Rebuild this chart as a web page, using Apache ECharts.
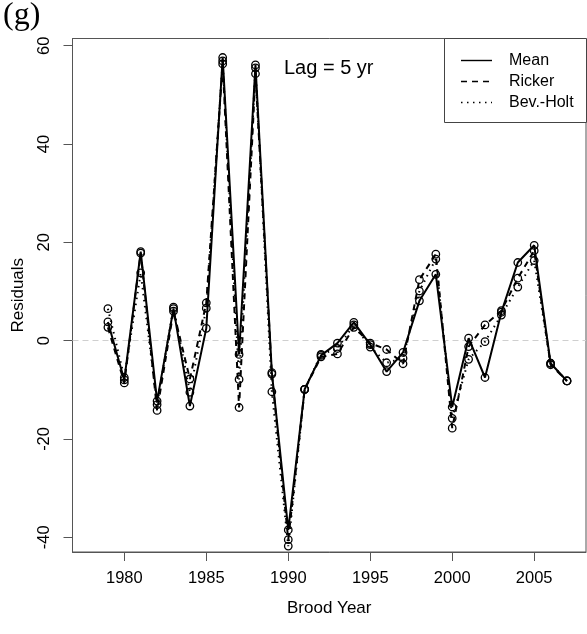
<!DOCTYPE html>
<html>
<head>
<meta charset="utf-8">
<script src="https://cdn.jsdelivr.net/npm/echarts@6/dist/echarts.min.js"></script>
<style>
  html, body { margin: 0; padding: 0; background: #fff; }
  #chart { width: 587px; height: 634px; }
</style>
</head>
<body>
<div id="chart"></div>
<script>
// Brood years and residuals of the three stock-recruit fits (lag = 5 yr)
const years = [1979, 1980, 1981, 1982, 1983, 1984, 1985, 1986, 1987, 1988,
               1989, 1990, 1991, 1992, 1993, 1994, 1995, 1996, 1997, 1998,
               1999, 2000, 2001, 2002, 2003, 2004, 2005, 2006, 2007];
const meanResid = [3.8, -8.0, 18.1, -12.3, 6.5, -13.3, 2.5, 57.6, -2.8, 56.1,
                   -6.5, -38.5, -9.9, -3.0, -0.5, 3.7, -0.8, -6.3, -2.4, 8.1,
                   13.5, -13.5, 0.5, -7.5, 5.8, 15.9, 19.4, -4.6, -8.2];
const rickerResid = [2.7, -8.6, 17.8, -14.2, 6.0, -7.8, 7.7, 56.3, -13.6, 54.3,
                     -6.8, -40.5, -9.9, -3.3, -2.7, 2.7, -0.5, -1.8, -4.7, 12.4,
                     17.6, -17.8, -1.2, 3.2, 6.1, 12.7, 18.3, -4.9, -8.2];
const bevHoltResid = [6.5, -7.5, 13.8, -13.0, 6.8, -10.5, 6.6, 56.9, -7.9, 55.5,
                      -10.4, -41.8, -9.9, -2.8, -1.6, 3.2, -1.3, -4.5, -3.6, 10.1,
                      16.6, -15.8, -3.8, -0.2, 5.2, 10.9, 16.3, -4.6, -8.2];

const xTicks = [1980, 1985, 1990, 1995, 2000, 2005];
const yTicks = [-40, -20, 0, 20, 40, 60];
const legendNames = ['Mean', 'Ricker', 'Bev.-Holt'];

const FONT = '"Liberation Sans", Arial, sans-serif';
const AXIS_COLOR = '#555';

const pairs = vals => years.map((y, i) => [y, vals[i]]);

function residSeries(name, vals, dash, z) {
  return {
    name: name,
    type: 'line',
    data: pairs(vals),
    z: z,
    symbol: 'circle',
    symbolSize: 7.5,
    showSymbol: true,
    itemStyle: { color: 'rgba(0,0,0,0)', borderColor: '#000', borderWidth: 1.3 },
    lineStyle: { color: '#000', width: 2, type: dash },
    emphasis: { disabled: true },
    animation: false
  };
}

const chart = echarts.init(document.getElementById('chart'), null, { renderer: 'canvas' });

// Legend box drawn by hand so each entry shows only its line style
const legendTop = 38.5, legendLeft = 444.5, rowGap = 21;
const legendGraphics = [{
  type: 'rect',
  shape: { x: legendLeft, y: legendTop, width: 142, height: 84 },
  style: { fill: '#fff', stroke: '#444', lineWidth: 1 },
  z: 10
}];
const legendDash = [null, [6, 5], [1.5, 4.5]];
legendNames.forEach((n, i) => {
  const cy = legendTop + rowGap * (i + 1) + 1;
  legendGraphics.push({
    type: 'line',
    shape: { x1: 461, y1: cy, x2: 492, y2: cy },
    style: { stroke: '#000', lineWidth: 1.4, lineDash: legendDash[i] },
    z: 11
  });
  legendGraphics.push({
    type: 'text',
    x: 509, y: cy,
    style: { text: n, font: '16px ' + FONT, fill: '#000', textVerticalAlign: 'middle' },
    z: 11
  });
});

chart.setOption({
  animation: false,
  backgroundColor: '#fff',
  grid: {
    left: 72.5, right: 1, top: 38.5, bottom: 82,
    show: true, borderColor: AXIS_COLOR, borderWidth: 1, containLabel: false
  },
  xAxis: {
    type: 'value',
    min: 1976.84, max: 2008.16,
    name: 'Brood Year',
    nameLocation: 'middle',
    nameGap: 48,
    nameTextStyle: { fontFamily: FONT, fontSize: 17, color: '#000' },
    axisLine: { show: true, onZero: false, lineStyle: { color: AXIS_COLOR, width: 1 } },
    axisTick: { show: true, length: 9, customValues: xTicks, lineStyle: { color: AXIS_COLOR } },
    axisLabel: {
      customValues: xTicks, margin: 18,
      formatter: v => String(v),
      fontFamily: FONT, fontSize: 16.5, color: '#000'
    },
    splitLine: { show: false }
  },
  yAxis: {
    type: 'value',
    min: -43.0, max: 61.47,
    name: 'Residuals',
    nameLocation: 'middle',
    nameGap: 46,
    nameRotate: 90,
    nameTextStyle: { fontFamily: FONT, fontSize: 17, color: '#000' },
    axisLine: { show: true, onZero: false, lineStyle: { color: AXIS_COLOR, width: 1 } },
    axisTick: { show: true, length: 9, customValues: yTicks, lineStyle: { color: AXIS_COLOR } },
    axisLabel: {
      customValues: yTicks, margin: 20, rotate: 90,
      fontFamily: FONT, fontSize: 16.5, color: '#000'
    },
    splitLine: { show: false }
  },
  series: [
    residSeries('Bev.-Holt', bevHoltResid, [1.5, 4.5], 3),
    residSeries('Ricker', rickerResid, [6, 5], 4),
    Object.assign(residSeries('Mean', meanResid, 'solid', 5), {
      markLine: {
        silent: true,
        symbol: 'none',
        label: { show: false },
        lineStyle: { color: '#cfcfcf', type: [6, 4], width: 1.2 },
        emphasis: { disabled: true },
        data: [{ yAxis: 0 }],
        z: 1
      }
    })
  ],
  graphic: [
    {
      type: 'text', left: 3, top: 0,
      style: { text: '(g)', font: '32px "Liberation Serif", "Times New Roman", serif', fill: '#000' }
    },
    {
      type: 'text', x: 284, y: 68,
      style: { text: 'Lag = 5 yr', font: '20px ' + FONT, fill: '#000', textVerticalAlign: 'middle' }
    }
  ].concat(legendGraphics)
});
</script>
</body>
</html>
